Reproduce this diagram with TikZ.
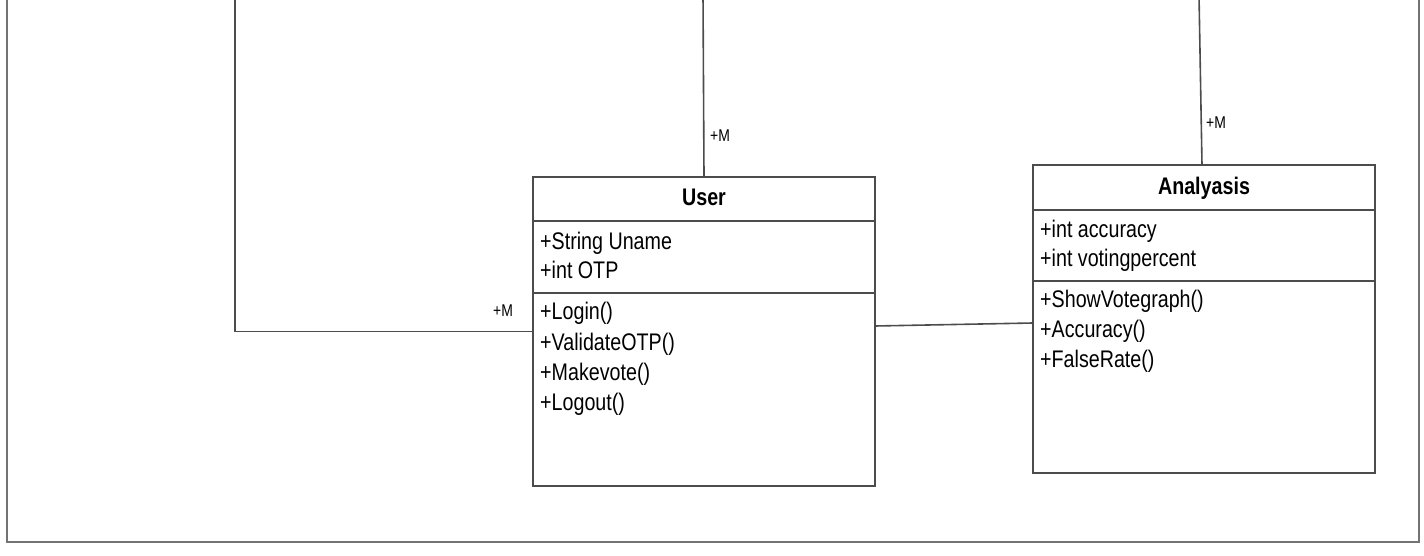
\documentclass[tikz,border=0pt]{standalone}
\usepackage{fontspec}
\setmainfont{Liberation Sans}[FakeStretch=0.82]
\begin{document}
\begin{tikzpicture}[x=1pt,y=-1pt,
  umlbox/.style={draw=black!70,line width=1.6pt,fill=white,minimum width=342pt,inner sep=0pt,outer sep=0pt},
  conn/.style={draw=black!70,line width=1.6pt},
  frame/.style={draw=black!55,line width=2pt},
  title/.style={font=\fontsize{24}{28}\selectfont\bfseries,anchor=base,inner sep=0pt},
  member/.style={font=\fontsize{24}{28}\selectfont,anchor=base west,inner sep=0pt},
  mult/.style={font=\fontsize{17}{20}\selectfont,anchor=base west,inner sep=0pt}]
\useasboundingbox (0,0) rectangle (1424,556);
% outer frame
\draw[frame] (7,-5) -- (7,542) -- (1419,542) -- (1419,-5);
% boxes
\node[umlbox,minimum height=309pt] (user) at (704,331.5) {};
\node[umlbox,minimum height=308pt] (ana) at (1204,319) {};
\draw[conn] (533,221) -- (875,221);
\draw[conn] (533,293) -- (875,293);
\draw[conn] (1033,210) -- (1375,210);
\draw[conn] (1033,281) -- (1375,281);
% titles
\node[title] (ut) at (704,206) {User};
\node[title] (at) at (1204,195) {Analyasis};
% user members
\node[member] (u1) at (540,249) {+String Uname};
\node[member] (u2) at (540,278) {+int OTP};
\node[member] (u3) at (540,319) {+Login()};
\node[member] (u4) at (540,350) {+ValidateOTP()};
\node[member] (u5) at (540,380) {+Makevote()};
\node[member] (u6) at (540,410) {+Logout()};
% analyasis members
\node[member] (a1) at (1040,237) {+int accuracy};
\node[member] (a2) at (1040,266) {+int votingpercent};
\node[member] (a3) at (1040,307) {+ShowVotegraph()};
\node[member] (a4) at (1040,337) {+Accuracy()};
\node[member] (a5) at (1040,367) {+FalseRate()};
% connectors
\coordinate (lt) at (235,-5);
\coordinate (ut2) at (703,-5);
\coordinate (at2) at (1199,-5);
\draw[conn] (lt) |- (user.west);
\draw[conn] (user.north) -- (ut2);
\draw[conn] ([xshift=-2pt]ana.north) -- (at2);
\draw[conn] ([yshift=5.5pt]user.east) -- ([yshift=-4pt]ana.west);
% multiplicities
\node[mult] (m1) at (493,316) {+M};
\node[mult] (m2) at (710,142) {+M};
\node[mult] (m3) at (1206,129) {+M};
\end{tikzpicture}
\end{document}
